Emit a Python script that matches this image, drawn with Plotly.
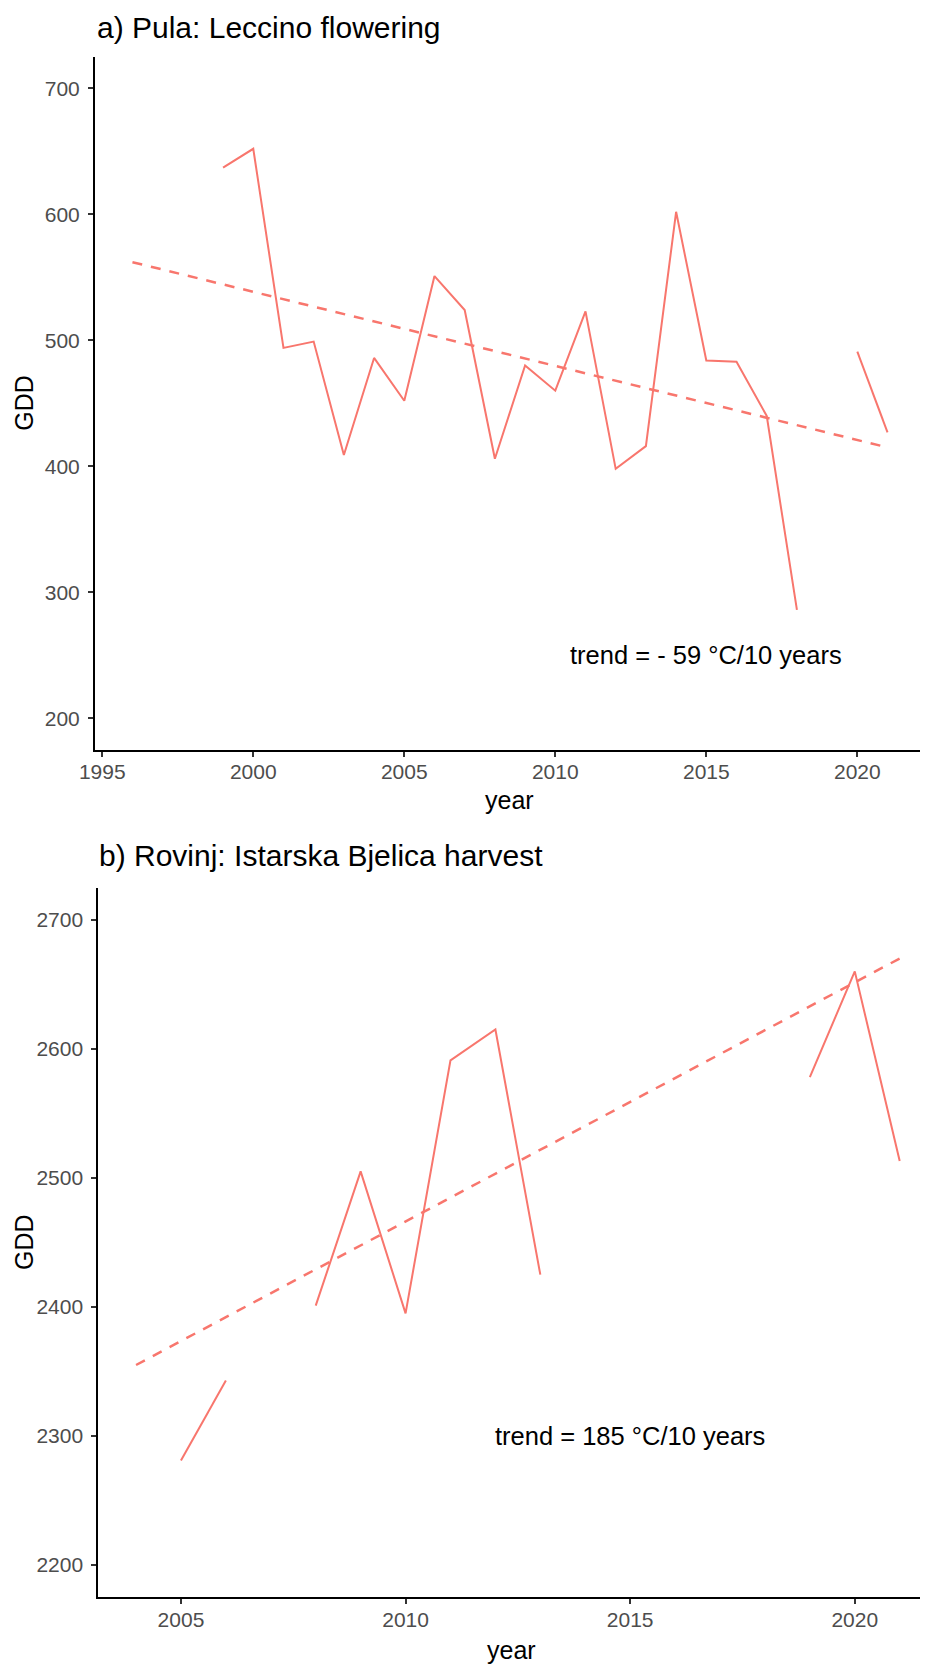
import plotly.graph_objects as go

# ---- data: panel a (Pula, Leccino flowering) ----
years_a = list(range(1996, 2022))
gdd_a = [None, None, None, 637, 652, 494, 499, 409, 486, 452, 551, 524, 406, 480, 460,
         523, 398, 416, 602, 484, 483, 440, 286, None, 491, 427]
trend_years_a = [1996, 2021]
trend_vals_a = [562, 415]
trend_label_a = "trend = - 59 °C/10 years"
title_a = "a) Pula: Leccino flowering"

# ---- data: panel b (Rovinj, Istarska Bjelica harvest) ----
years_b = list(range(2004, 2022))
gdd_b = [None, 2281, 2343, None, 2401, 2505, 2395, 2591, 2615, 2425,
         None, None, None, None, None, 2578, 2660, 2513]
trend_years_b = [2004, 2021]
trend_vals_b = [2355, 2670]
trend_label_b = "trend = 185 °C/10 years"
title_b = "b) Rovinj: Istarska Bjelica harvest"

xticks_a = [1995, 2000, 2005, 2010, 2015, 2020]
yticks_a = [200, 300, 400, 500, 600, 700]
xticks_b = [2005, 2010, 2015, 2020]
yticks_b = [2200, 2300, 2400, 2500, 2600, 2700]

# the page body has an 8px margin, so the figure is drawn 8px in from the corner
OFF = 8
W, H = 928 - OFF, 1665 - OFF
RED = "#F8766D"
FONT = "Liberation Sans, Arial, sans-serif"


def px_x(p):
    return (p - OFF) / W


def px_y(p):
    return 1 - (p - OFF) / H


fig = go.Figure()
fig.add_trace(go.Scatter(x=years_a, y=gdd_a, mode="lines", line=dict(color=RED, width=2),
                         connectgaps=False, xaxis="x", yaxis="y", showlegend=False))
fig.add_trace(go.Scatter(x=trend_years_a, y=trend_vals_a, mode="lines",
                         line=dict(color=RED, width=2.5, dash="10px,9px"),
                         xaxis="x", yaxis="y", showlegend=False))
fig.add_trace(go.Scatter(x=years_b, y=gdd_b, mode="lines", line=dict(color=RED, width=2),
                         connectgaps=False, xaxis="x2", yaxis="y2", showlegend=False))
fig.add_trace(go.Scatter(x=trend_years_b, y=trend_vals_b, mode="lines",
                         line=dict(color=RED, width=2.5, dash="10px,9px"),
                         xaxis="x2", yaxis="y2", showlegend=False))

axis_common = dict(showgrid=False, zeroline=False, showline=True, linecolor="black",
                   linewidth=2, ticks="outside", ticklen=5, tickcolor="#333333",
                   tickwidth=2, automargin=False,
                   tickfont=dict(family=FONT, size=21, color="#4d4d4d"))

fig.update_layout(
    width=W, height=H, margin=dict(l=0, r=0, t=0, b=0, autoexpand=False),
    plot_bgcolor="white", paper_bgcolor="white",
    font=dict(family=FONT),
    xaxis=dict(domain=[px_x(95), 1], range=[1994.76, 2022.34], tickvals=xticks_a,
               anchor="y", ticklabelstandoff=-3, **axis_common),
    yaxis=dict(domain=[px_y(749.8), px_y(56.8)], range=[175, 725], tickvals=yticks_a,
               anchor="x", ticklabelstandoff=4, **axis_common),
    xaxis2=dict(domain=[px_x(98.3), 1], range=[2003.16, 2021.63], tickvals=xticks_b,
                anchor="y2", ticklabelstandoff=-3, **axis_common),
    yaxis2=dict(domain=[px_y(1597.3), px_y(887.5)], range=[2175, 2725], tickvals=yticks_b,
                anchor="x2", ticklabelstandoff=4, **axis_common),
)

ann = []
ann.append(dict(text=title_a, xref="paper", yref="paper", x=px_x(95), y=px_y(27),
                xanchor="left", yanchor="middle", showarrow=False,
                font=dict(family=FONT, size=30, color="black")))
ann.append(dict(text=title_b, xref="paper", yref="paper", x=px_x(97), y=px_y(856),
                xanchor="left", yanchor="middle", showarrow=False,
                font=dict(family=FONT, size=30, color="black")))
ann.append(dict(text=trend_label_a, xref="x", yref="y", x=2015, y=250, showarrow=False,
                font=dict(family=FONT, size=25.5, color="black")))
ann.append(dict(text=trend_label_b, xref="x2", yref="y2", x=2015, y=2300, showarrow=False,
                font=dict(family=FONT, size=25.5, color="black")))
for yy in [(56.8 + 749.8) / 2, (887.5 + 1597.3) / 2]:
    ann.append(dict(text="GDD", xref="paper", yref="paper", x=px_x(24.5), y=px_y(yy),
                    textangle=-90, showarrow=False, xanchor="center", yanchor="middle",
                    font=dict(family=FONT, size=25, color="black")))
ann.append(dict(text="year", xref="paper", yref="paper", x=px_x(509), y=px_y(800),
                showarrow=False, xanchor="center", yanchor="middle",
                font=dict(family=FONT, size=25, color="black")))
ann.append(dict(text="year", xref="paper", yref="paper", x=px_x(512), y=px_y(1650),
                showarrow=False, xanchor="center", yanchor="middle",
                font=dict(family=FONT, size=25, color="black")))
fig.update_layout(annotations=ann)

fig.write_html("out.html")
